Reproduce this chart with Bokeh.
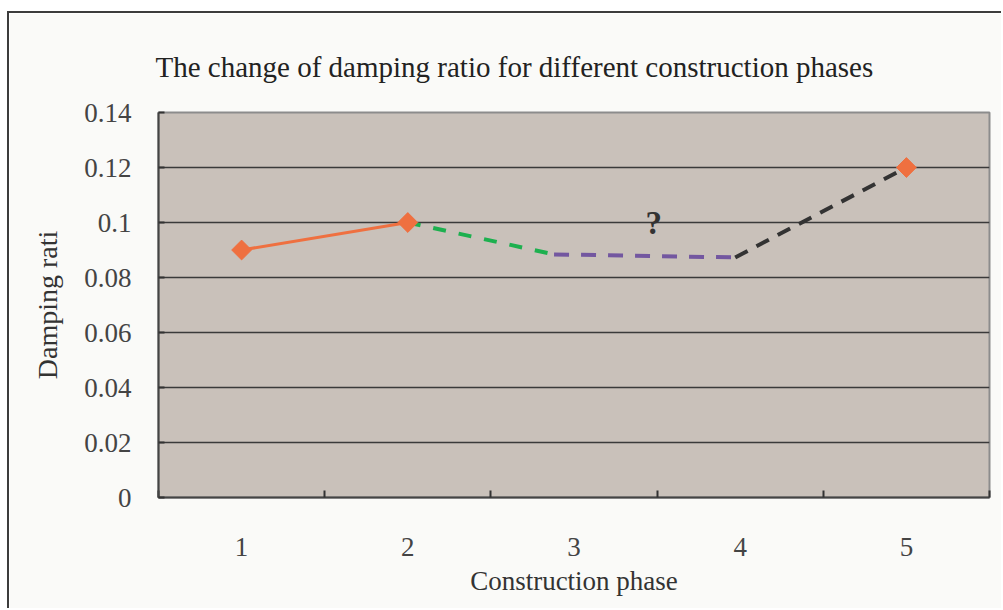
from bokeh.plotting import figure
from bokeh.models import FixedTicker, CustomJSTickFormatter, Range1d
from bokeh.core.properties import value
from bokeh.embed import file_html
from bokeh.resources import INLINE
import numpy as np

# Measured damping ratio at the known construction phases
phase_known = [1, 2, 5]
damping_known = [0.09, 0.10, 0.12]

# Estimated path between phases 2 and 5 (three dashed stretches)
est_a_x = [2, 2.88]
est_a_y = [0.10, 0.0884]
est_b_x = [2.88, 3.97]
est_b_y = [0.0884, 0.0873]
est_c_x = [3.97, 5]
est_c_y = [0.0873, 0.12]

# Solid measured link between phases 1 and 2
solid_x = [1, 2]
solid_y = [0.09, 0.10]

x_ticks = [1, 2, 3, 4, 5]
x_bounds = [0.5, 1.5, 2.5, 3.5, 4.5, 5.5]
y_ticks = [0, 0.02, 0.04, 0.06, 0.08, 0.10, 0.12, 0.14]

SERIF = "Liberation Serif"

p = figure(width=994, height=597, output_backend="svg", toolbar_location=None,
           x_range=Range1d(0.5, 5.5), y_range=Range1d(0, 0.14),
           min_border_left=149, min_border_right=14,
           min_border_top=99, min_border_bottom=113)
p.styles = {"border-left": "2px solid #3c3c3c", "border-top": "2px solid #3c3c3c",
            "margin-left": "7px", "margin-top": "11px"}

p.title.text = "The change of damping ratio for different construction phases"
p.title.align = "left"
p.title.offset = -3
p.title.standoff = 59
p.title.text_font = SERIF
p.title.text_font_size = "29px"
p.title.text_font_style = "normal"
p.title.text_color = "#222222"

p.background_fill_color = "#C9C1BA"
p.border_fill_color = "#FAFAF8"
p.outline_line_color = "#8C8C8C"
p.outline_line_width = 2

p.xgrid.grid_line_color = None
p.ygrid.ticker = FixedTicker(ticks=y_ticks)
p.ygrid.grid_line_color = "#3a3a3a"
p.ygrid.grid_line_width = 1.6

xa = p.xaxis[0]
xa.ticker = FixedTicker(ticks=x_ticks, minor_ticks=x_bounds)
xa.major_tick_line_color = None
xa.minor_tick_in = 7
xa.minor_tick_out = 0
xa.minor_tick_line_color = "#333333"
xa.minor_tick_line_width = 2
xa.axis_line_color = "#444444"
xa.axis_line_width = 2
xa.major_label_standoff = 34
xa.major_label_text_font = SERIF
xa.major_label_text_font_size = "27px"
xa.major_label_text_color = "#444444"
xa.axis_label = "Construction phase"
xa.axis_label_text_font = SERIF
xa.axis_label_text_font_size = "27px"
xa.axis_label_text_font_style = "normal"
xa.axis_label_text_color = "#333333"
xa.axis_label_standoff = 7

ya = p.yaxis[0]
ya.ticker = FixedTicker(ticks=y_ticks)
ya.formatter = CustomJSTickFormatter(code="return tick == 0 ? '0' : String(+tick.toFixed(2));")
ya.major_tick_in = 6
ya.major_tick_out = 0
ya.major_tick_line_color = "#333333"
ya.major_tick_line_width = 2
ya.minor_tick_line_color = None
ya.axis_line_color = "#444444"
ya.axis_line_width = 2
ya.major_label_standoff = 27
ya.major_label_text_font = SERIF
ya.major_label_text_font_size = "27px"
ya.major_label_text_color = "#444444"
ya.axis_label = "Damping rati"
ya.axis_label_text_font = SERIF
ya.axis_label_text_font_size = "28px"
ya.axis_label_text_font_style = "normal"
ya.axis_label_text_color = "#333333"
ya.axis_label_standoff = 18

p.line(solid_x, solid_y, line_color="#EF7040", line_width=3)
p.line(est_a_x, est_a_y, line_color="#1DB04F", line_width=4, line_dash="13 13")
p.line(est_b_x, est_b_y, line_color="#7357A0", line_width=4, line_dash="15 12")
p.line(est_c_x, est_c_y, line_color="#333333", line_width=4, line_dash="14 10")
p.scatter(phase_known, damping_known, marker="square", angle=np.pi / 4, size=14,
          fill_color="#EF7040", line_color="#EF7040")

p.text(x=[3.48], y=[0.0998], text=["?"], text_font=value(SERIF),
       text_font_size="33px", text_font_style="bold", text_color="#333333",
       text_align="center", text_baseline="middle")

open("out.html", "w").write(file_html(p, INLINE))
